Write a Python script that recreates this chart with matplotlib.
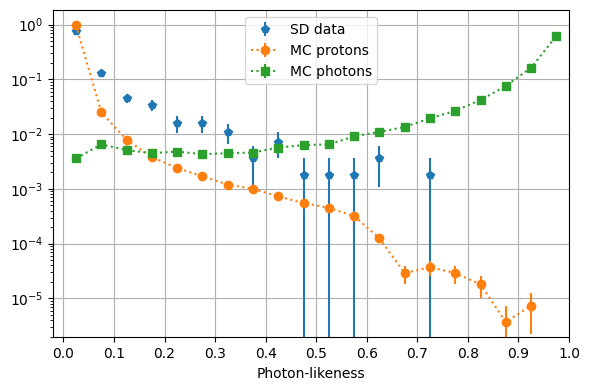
import numpy as np
import matplotlib
matplotlib.use('Agg')
import matplotlib.pyplot as plt

# bin centres of photon-likeness
bins = [0.025, 0.075, 0.125, 0.175, 0.225, 0.275, 0.325, 0.375, 0.425, 0.475,
        0.525, 0.575, 0.625, 0.675, 0.725, 0.775, 0.825, 0.875, 0.925, 0.975]

# SD data (empty bins left out)
sd_x = [0.025, 0.075, 0.125, 0.175, 0.225, 0.275, 0.325, 0.375, 0.425,
        0.475, 0.525, 0.575, 0.625, 0.725]
sd_y = [0.76, 0.132, 0.046, 0.034, 0.016, 0.016, 0.011, 0.0036, 0.0072,
        0.0018, 0.0018, 0.0018, 0.0036, 0.0018]
sd_err = [0.037, 0.015, 0.009, 0.0078, 0.0053, 0.0053, 0.0044, 0.0025, 0.0036,
          0.0018, 0.0018, 0.0018, 0.0025, 0.0018]

# MC protons (last bin empty)
pr_x = bins[:19]
pr_y = [0.97, 0.025, 0.0079, 0.0038, 0.0024, 0.0017, 0.0012, 0.001, 0.00073,
        0.00055, 0.00045, 0.00032, 0.000125, 2.9e-5, 3.7e-5, 2.9e-5, 1.8e-5,
        3.7e-6, 7.4e-6]
pr_err = [0.0019, 0.0003, 0.00017, 0.00012, 9e-5, 8e-5, 7e-5, 6e-5, 5e-5,
          4.5e-5, 4e-5, 3.4e-5, 2.2e-5, 1.05e-5, 1.15e-5, 1.05e-5, 8e-6,
          3.7e-6, 5.2e-6]

# MC photons
ph_y = [0.0036, 0.0065, 0.0051, 0.0045, 0.0048, 0.0043, 0.0045, 0.0046, 0.0057,
        0.0063, 0.0065, 0.0091, 0.011, 0.0135, 0.0195, 0.0266, 0.042, 0.076,
        0.163, 0.62]
ph_err = [0.0002, 0.0003, 0.0002, 0.0002, 0.0002, 0.0002, 0.0002, 0.0002, 0.0003,
          0.0003, 0.0003, 0.0003, 0.0004, 0.0004, 0.0005, 0.0006, 0.0007, 0.001,
          0.0014, 0.003]

fig, ax = plt.subplots(figsize=(5.89, 3.9), dpi=100)
ax.errorbar(sd_x, sd_y, yerr=sd_err, fmt='p', label='SD data')
ax.errorbar(pr_x, pr_y, yerr=pr_err, fmt='o:', label='MC protons')
ax.errorbar(bins, ph_y, yerr=ph_err, fmt='s:', label='MC photons')

ax.set_yscale('log')
ax.set_xlim(-0.02, 1.0)
ax.set_ylim(1.94e-6, 1.83)
ax.set_xticks(np.arange(0, 1.01, 0.1))
ax.set_xlabel('Photon-likeness')
ax.grid(True)
ax.legend(loc='upper center')

fig.subplots_adjust(left=0.0905, right=0.966, top=0.9736, bottom=0.135)
plt.savefig('out.png')
